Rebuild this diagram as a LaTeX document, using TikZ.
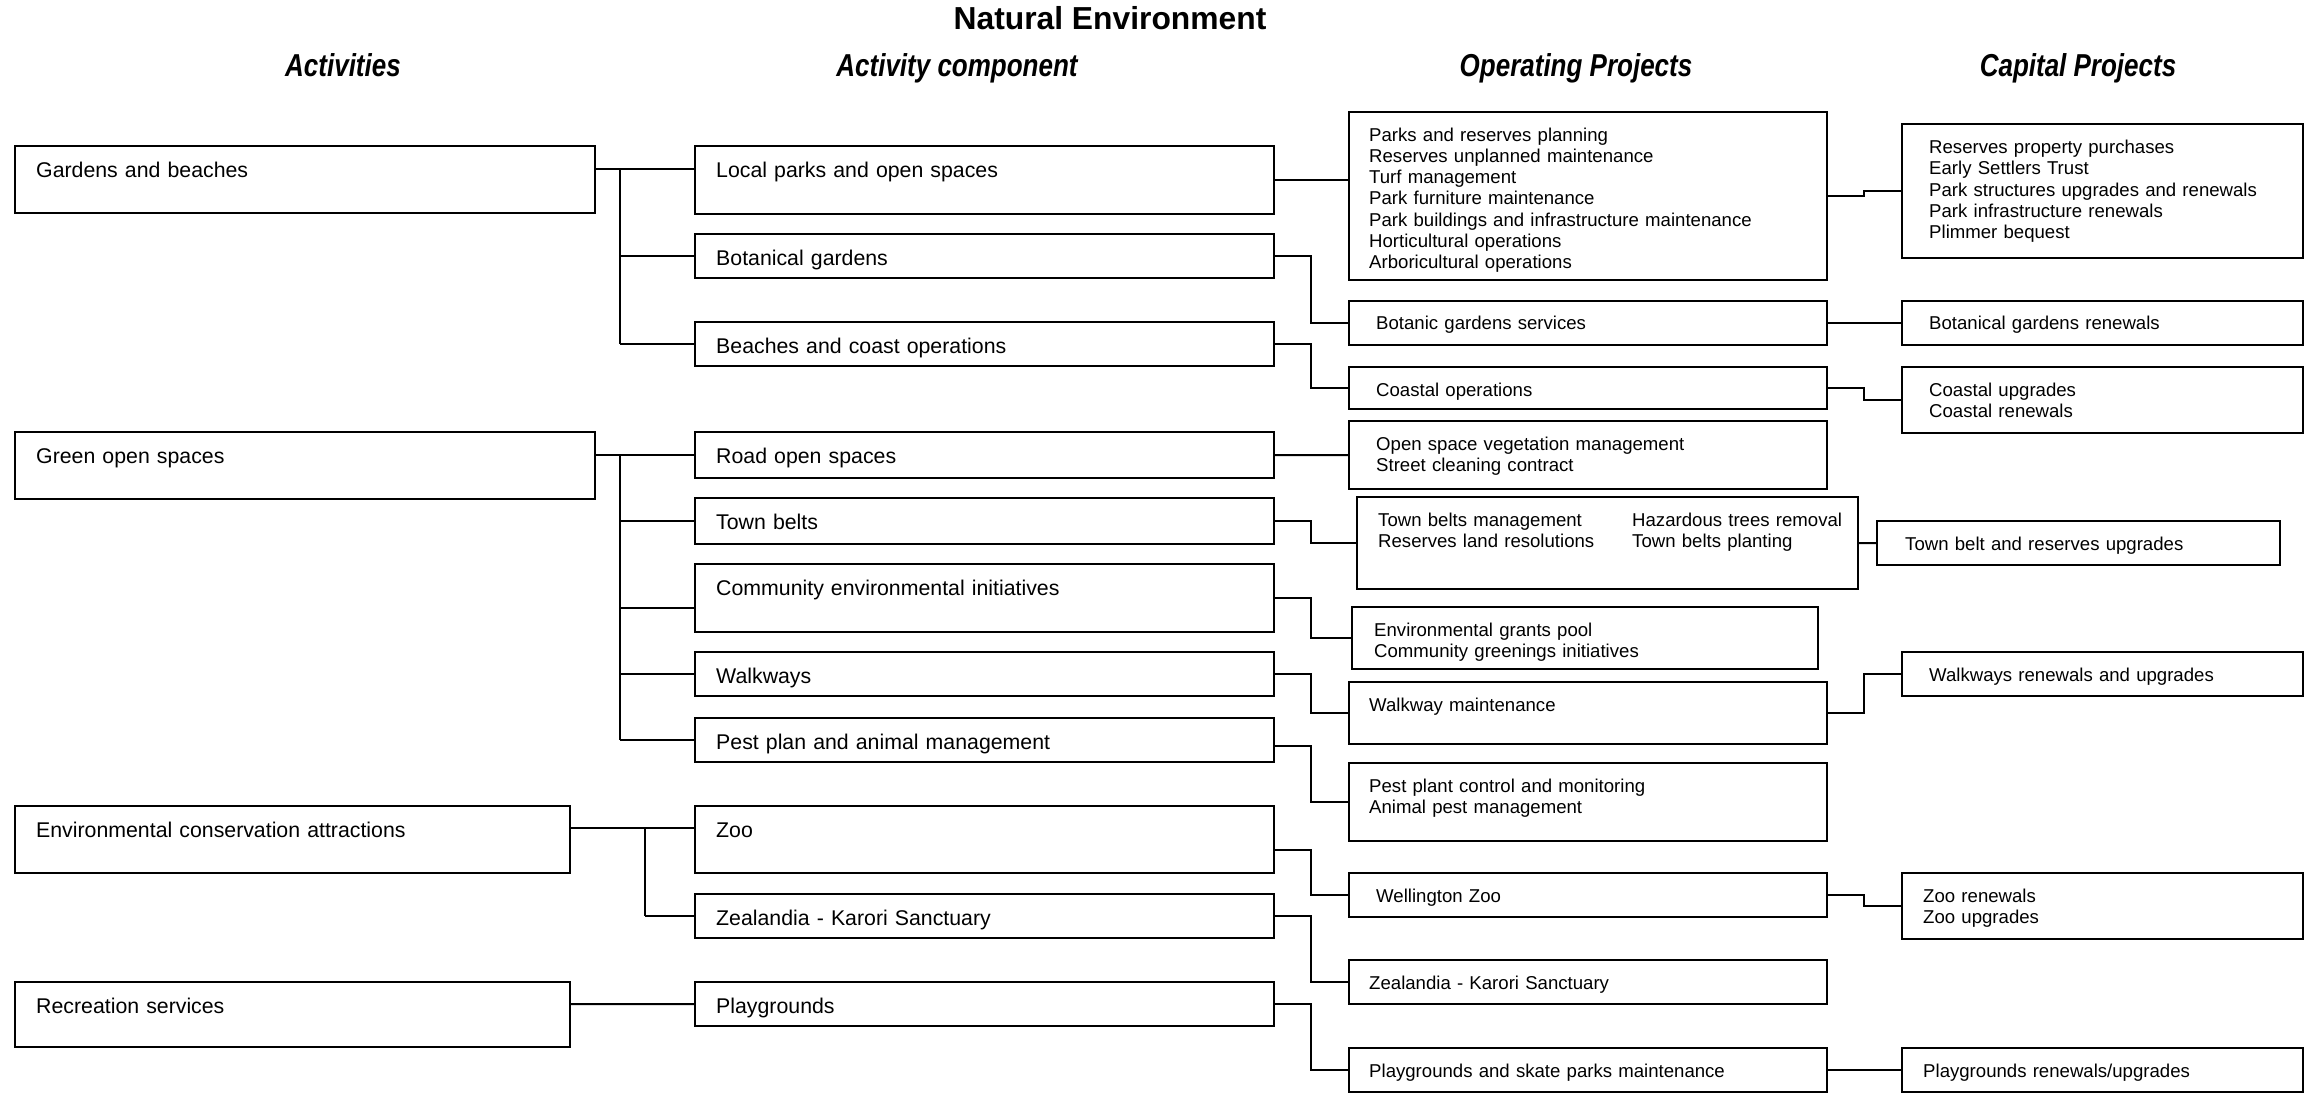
\documentclass[tikz,border=0pt]{standalone}
\usepackage{fontspec}
\setmainfont{Liberation Sans}
\newfontfamily\narrowsans[FakeStretch=0.82]{Liberation Sans}
\usetikzlibrary{calc}

\begin{document}
\begin{tikzpicture}[x=1bp, y=-1bp,
        box/.style={draw, line width=2bp, outer sep=0pt, inner sep=0pt, anchor=north west},
        sz/.style 2 args={minimum width=#1bp, minimum height=#2bp},
        txt/.style={anchor=base west, inner sep=0pt, text width=520bp, align=left, font=\fontsize{18.6bp}{21.3bp}\selectfont},
        ctxt/.style={txt, font=\fontsize{21.3bp}{24.5bp}\selectfont},
        head/.style={anchor=base, font=\narrowsans\bfseries\itshape\fontsize{31.7bp}{38bp}\selectfont},
        link/.style={line width=2bp},
        trunk/.style={line width=1.6bp}
    ]
        \useasboundingbox (0,0) rectangle (2304,1095);

        % Titles
        \node[anchor=base, font=\bfseries\fontsize{31.8bp}{38bp}\selectfont] (title) at (1110,29) {Natural Environment};
        \node[head] (h1) at (343,76) {Activities};
        \node[head] (h2) at (957,76) {Activity component};
        \node[head] (h3) at (1576,76) {Operating Projects};
        \node[head] (h4) at (2078,76) {Capital Projects};

        % Activities
        \node[box, sz={580}{67}] (gb) at (15,146) {};
        \node[ctxt] (gbt) at ([shift={(21,31)}]gb.north west) {Gardens and beaches};
        \node[box, sz={580}{67}] (gos) at (15,432) {};
        \node[ctxt] (gost) at ([shift={(21,31)}]gos.north west) {Green open spaces};
        \node[box, sz={555}{67}] (eca) at (15,806) {};
        \node[ctxt] (ecat) at ([shift={(21,31)}]eca.north west) {Environmental conservation attractions};
        \node[box, sz={555}{65}] (rs) at (15,982) {};
        \node[ctxt] (rst) at ([shift={(21,31)}]rs.north west) {Recreation services};

        % Activity components
        \node[box, sz={579}{68}] (lp) at (695,146) {};
        \node[ctxt] (lpt) at ([shift={(21,31)}]lp.north west) {Local parks and open spaces};
        \node[box, sz={579}{44}] (bg) at (695,234) {};
        \node[ctxt] (bgt) at ([shift={(21,31)}]bg.north west) {Botanical gardens};
        \node[box, sz={579}{44}] (bc) at (695,322) {};
        \node[ctxt] (bct) at ([shift={(21,31)}]bc.north west) {Beaches and coast operations};
        \node[box, sz={579}{46}] (ro) at (695,432) {};
        \node[ctxt] (rot) at ([shift={(21,31)}]ro.north west) {Road open spaces};
        \node[box, sz={579}{46}] (tb) at (695,498) {};
        \node[ctxt] (tbt) at ([shift={(21,31)}]tb.north west) {Town belts};
        \node[box, sz={579}{68}] (ce) at (695,564) {};
        \node[ctxt] (cet) at ([shift={(21,31)}]ce.north west) {Community environmental initiatives};
        \node[box, sz={579}{44}] (wk) at (695,652) {};
        \node[ctxt] (wkt) at ([shift={(21,31)}]wk.north west) {Walkways};
        \node[box, sz={579}{44}] (pp) at (695,718) {};
        \node[ctxt] (ppt) at ([shift={(21,31)}]pp.north west) {Pest plan and animal management};
        \node[box, sz={579}{67}] (zoo) at (695,806) {};
        \node[ctxt] (zoot) at ([shift={(21,31)}]zoo.north west) {Zoo};
        \node[box, sz={579}{44}] (zk) at (695,894) {};
        \node[ctxt] (zkt) at ([shift={(21,31)}]zk.north west) {Zealandia - Karori Sanctuary};
        \node[box, sz={579}{44}] (pg) at (695,982) {};
        \node[ctxt] (pgt) at ([shift={(21,31)}]pg.north west) {Playgrounds};

        % Operating projects
        \node[box, sz={478}{168}] (pr) at (1349,112) {};
        \node[txt] (prt) at ([shift={(20,29)}]pr.north west) {Parks and reserves planning\\Reserves unplanned maintenance\\Turf management\\Park furniture maintenance\\Park buildings and infrastructure maintenance\\Horticultural operations\\Arboricultural operations};
        \node[box, sz={478}{44}] (bgs) at (1349,301) {};
        \node[txt] (bgst) at ([shift={(27,28)}]bgs.north west) {Botanic gardens services};
        \node[box, sz={478}{42}] (co) at (1349,367) {};
        \node[txt] (cot) at ([shift={(27,29)}]co.north west) {Coastal operations};
        \node[box, sz={478}{68}] (osv) at (1349,421) {};
        \node[txt] (osvt) at ([shift={(27,29)}]osv.north west) {Open space vegetation management\\Street cleaning contract};
        \node[box, sz={501}{92}] (tbm) at (1357,497) {};
        \node[txt] (tbmt) at ([shift={(21,29)}]tbm.north west) {Town belts management\\Reserves land resolutions};
        \node[txt] (tbmu) at ([shift={(275,29)}]tbm.north west) {Hazardous trees removal\\Town belts planting};
        \node[box, sz={466}{62}] (eg) at (1352,607) {};
        \node[txt] (egt) at ([shift={(22,29)}]eg.north west) {Environmental grants pool\\Community greenings initiatives};
        \node[box, sz={478}{62}] (wm) at (1349,682) {};
        \node[txt] (wmt) at ([shift={(20,29.5)}]wm.north west) {Walkway maintenance};
        \node[box, sz={478}{78}] (ppc) at (1349,763) {};
        \node[txt] (ppct) at ([shift={(20,29.5)}]ppc.north west) {Pest plant control and monitoring\\Animal pest management};
        \node[box, sz={478}{44}] (wz) at (1349,873) {};
        \node[txt] (wzt) at ([shift={(27,29)}]wz.north west) {Wellington Zoo};
        \node[box, sz={478}{44}] (zko) at (1349,960) {};
        \node[txt] (zkot) at ([shift={(20,29.5)}]zko.north west) {Zealandia - Karori Sanctuary};
        \node[box, sz={478}{44}] (psk) at (1349,1048) {};
        \node[txt] (pskt) at ([shift={(20,29.5)}]psk.north west) {Playgrounds and skate parks maintenance};

        % Capital projects
        \node[box, sz={400.5}{134}] (rpp) at (1902,124) {};
        \node[txt] (rppt) at ([shift={(27,29.5)}]rpp.north west) {Reserves property purchases\\Early Settlers Trust\\Park structures upgrades and renewals\\Park infrastructure renewals\\Plimmer bequest};
        \node[box, sz={400.5}{44}] (bgr) at (1902,301) {};
        \node[txt] (bgrt) at ([shift={(27,28)}]bgr.north west) {Botanical gardens renewals};
        \node[box, sz={400.5}{66}] (cu) at (1902,367) {};
        \node[txt] (cut) at ([shift={(27,29)}]cu.north west) {Coastal upgrades\\Coastal renewals};
        \node[box, sz={403}{44}] (tbu) at (1877,521) {};
        \node[txt] (tbut) at ([shift={(28,29)}]tbu.north west) {Town belt and reserves upgrades};
        \node[box, sz={400.5}{44}] (wr) at (1902,652) {};
        \node[txt] (wrt) at ([shift={(27,29.5)}]wr.north west) {Walkways renewals and upgrades};
        \node[box, sz={400.5}{66}] (zr) at (1902,873) {};
        \node[txt] (zrt) at ([shift={(21,29)}]zr.north west) {Zoo renewals\\Zoo upgrades};
        \node[box, sz={400.5}{44}] (pgr) at (1902,1048) {};
        \node[txt] (pgrt) at ([shift={(21,29.5)}]pgr.north west) {Playgrounds renewals/upgrades};

        % Activities -> components
        \coordinate (t1) at (620,169);
        \coordinate (t2) at (620,455);
        \coordinate (t3) at (645,828);
        \coordinate (cein) at ([yshift=-10bp]ce.west);
        \draw[link] ([yshift=10.5bp]gb.east) -- ([yshift=11bp]lp.west);
        \draw[trunk] (t1) -- (t1 |- bc.west);
        \foreach \n in {bg, bc} \draw[link] (t1 |- \n.west) -- (\n.west);
        \draw[link] ([yshift=10.5bp]gos.east) -- (ro.west);
        \draw[trunk] (t2) -- (t2 |- pp.west);
        \foreach \n in {tb, wk, pp} \draw[link] (t2 |- \n.west) -- (\n.west);
        \draw[link] (t2 |- cein) -- (cein);
        \draw[link] ([yshift=11.5bp]eca.east) -- ([yshift=11.5bp]zoo.west);
        \draw[trunk] (t3) -- (t3 |- zk.west);
        \draw[link] (t3 |- zk.west) -- (zk.west);
        \draw[link] ([yshift=10.5bp]rs.east) -- (pg.west);

        % Components -> operating projects
        \draw[link] (lp.east) -- (lp.east -| pr.west);
        \draw[link] (ro.east) -- (osv.west);
        \foreach \a/\b in {bg/bgs, bc/co, tb/tbm, ce/eg, wk/wm, zk/zko, pg/psk}
            \draw[link] (\a.east) -- ++(37,0) |- (\b.west);
        \draw[link] ([yshift=-6bp]pp.east) -- ++(37,0) |- (ppc.west);
        \draw[link] ([yshift=-10.5bp]zoo.east) -- ++(37,0) |- (wz.west);

        % Operating -> capital projects
        \foreach \a/\b in {pr/rpp, co/cu, wm/wr, wz/zr}
            \draw[link] (\a.east) -- ++(37,0) |- (\b.west);
        \foreach \a/\b in {bgs/bgr, tbm/tbu, psk/pgr}
            \draw[link] (\a.east) -- (\b.west);
    \end{tikzpicture}
\end{document}
